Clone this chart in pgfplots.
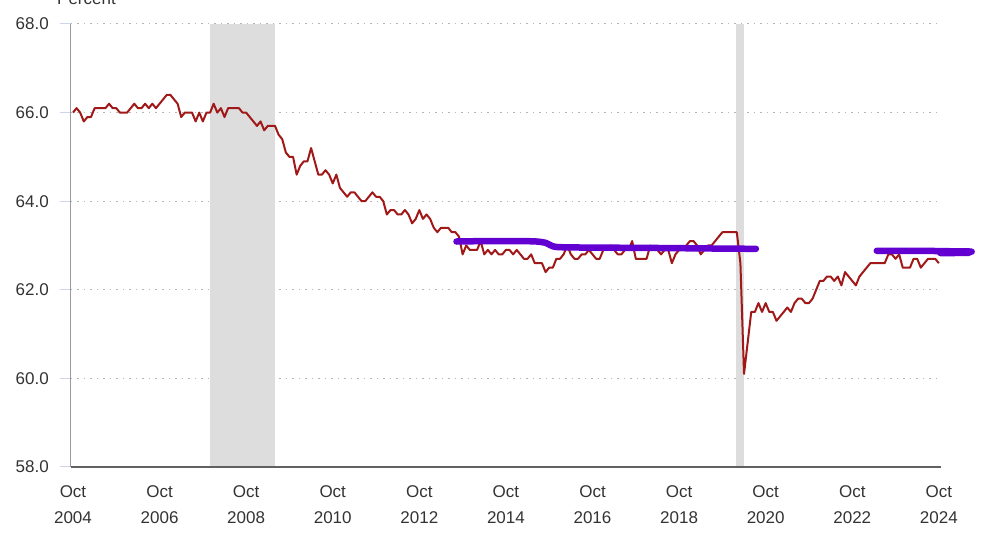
\documentclass[border=0pt]{standalone}
\usepackage{pgfplots}
\pgfplotsset{compat=1.18}
\usepackage{pgfplotstable}
\usepackage{fontspec}
\setmainfont{Liberation Sans}
\definecolor{lfpr}{RGB}{160,24,24}
\definecolor{recg}{RGB}{221,221,221}
\definecolor{annot}{RGB}{98,0,210}
\definecolor{tickc}{RGB}{204,214,235}
\definecolor{gridc}{RGB}{180,180,180}
\definecolor{labc}{RGB}{51,51,51}

% months since Oct 2004, labor force participation rate (percent)
\pgfplotstableread{
m v
0 66.0
1 66.1
2 66.0
3 65.8
4 65.9
5 65.9
6 66.1
7 66.1
8 66.1
9 66.1
10 66.2
11 66.1
12 66.1
13 66.0
14 66.0
15 66.0
16 66.1
17 66.2
18 66.1
19 66.1
20 66.2
21 66.1
22 66.2
23 66.1
24 66.2
25 66.3
26 66.4
27 66.4
28 66.3
29 66.2
30 65.9
31 66.0
32 66.0
33 66.0
34 65.8
35 66.0
36 65.8
37 66.0
38 66.0
39 66.2
40 66.0
41 66.1
42 65.9
43 66.1
44 66.1
45 66.1
46 66.1
47 66.0
48 66.0
49 65.9
50 65.8
51 65.7
52 65.8
53 65.6
54 65.7
55 65.7
56 65.7
57 65.5
58 65.4
59 65.1
60 65.0
61 65.0
62 64.6
63 64.8
64 64.9
65 64.9
66 65.2
67 64.9
68 64.6
69 64.6
70 64.7
71 64.6
72 64.4
73 64.6
74 64.3
75 64.2
76 64.1
77 64.2
78 64.2
79 64.1
80 64.0
81 64.0
82 64.1
83 64.2
84 64.1
85 64.1
86 64.0
87 63.7
88 63.8
89 63.8
90 63.7
91 63.7
92 63.8
93 63.7
94 63.5
95 63.6
96 63.8
97 63.6
98 63.7
99 63.6
100 63.4
101 63.3
102 63.4
103 63.4
104 63.4
105 63.3
106 63.3
107 63.2
108 62.8
109 63.0
110 62.9
111 62.9
112 62.9
113 63.1
114 62.8
115 62.9
116 62.8
117 62.9
118 62.8
119 62.8
120 62.9
121 62.9
122 62.8
123 62.9
124 62.8
125 62.7
126 62.7
127 62.8
128 62.6
129 62.6
130 62.6
131 62.4
132 62.5
133 62.5
134 62.7
135 62.7
136 62.8
137 63.0
138 62.8
139 62.7
140 62.7
141 62.8
142 62.8
143 62.9
144 62.8
145 62.7
146 62.7
147 62.9
148 62.9
149 63.0
150 62.9
151 62.8
152 62.8
153 62.9
154 62.9
155 63.1
156 62.7
157 62.7
158 62.7
159 62.7
160 63.0
161 62.9
162 62.9
163 62.8
164 62.9
165 62.9
166 62.6
167 62.8
168 62.9
169 62.9
170 63.0
171 63.1
172 63.1
173 63.0
174 62.8
175 62.9
176 63.0
177 63.0
178 63.1
179 63.2
180 63.3
181 63.3
182 63.3
183 63.3
184 63.3
185 62.6
186 60.1
187 60.8
188 61.5
189 61.5
190 61.7
191 61.5
192 61.7
193 61.5
194 61.5
195 61.3
196 61.4
197 61.5
198 61.6
199 61.5
200 61.7
201 61.8
202 61.8
203 61.7
204 61.7
205 61.8
206 62.0
207 62.2
208 62.2
209 62.3
210 62.3
211 62.2
212 62.3
213 62.1
214 62.4
215 62.3
216 62.2
217 62.1
218 62.3
219 62.4
220 62.5
221 62.6
222 62.6
223 62.6
224 62.6
225 62.6
226 62.8
227 62.8
228 62.7
229 62.8
230 62.5
231 62.5
232 62.5
233 62.7
234 62.7
235 62.5
236 62.6
237 62.7
238 62.7
239 62.7
240 62.6
}\lfprdata

\begin{document}
\begin{tikzpicture}
\begin{axis}[
  name=ax,
  scale only axis,
  width=870pt, height=443pt,
  xmin=-0.55, xmax=240.6,
  ymin=58, ymax=68,
  clip=false,
  axis x line=bottom, axis y line=left,
  axis line style={-},
  x axis line style={draw=black!62, line width=1.3pt},
  y axis line style={draw=black!40, line width=1pt},
  xtick={0,24,48,72,96,120,144,168,192,216,240},
  xticklabels={{Oct\\2004},{Oct\\2006},{Oct\\2008},{Oct\\2010},{Oct\\2012},{Oct\\2014},{Oct\\2016},{Oct\\2018},{Oct\\2020},{Oct\\2022},{Oct\\2024}},
  ytick={58,60,62,64,66,68},
  major tick length=11pt,
  tick align=outside,
  xtick style={draw=none},
  ytick style={draw=tickc, line width=1pt},
  ymajorgrids,
  grid style={dash pattern=on 1.5pt off 5pt, draw=gridc, line width=1pt},
  xticklabel style={font=\fontsize{17}{26}\selectfont, text=labc, align=center, anchor=north, inner sep=0pt, yshift=-7pt},
  yticklabel style={font=\fontsize{17}{20}\selectfont, text=labc, anchor=east, inner sep=0pt, xshift=-11pt,
    /pgf/number format/.cd, fixed, fixed zerofill, precision=1, assume math mode=true},
]
% recession shading
\addplot[fill=recg, draw=none, forget plot] coordinates {(38,58.02) (56,58.02) (56,68) (38,68)} -- cycle;
\addplot[fill=recg, draw=none, forget plot] coordinates {(183.9,58.02) (186,58.02) (186,68) (183.9,68)} -- cycle;
% series
\addplot[lfpr, line width=2pt, line join=round] table[x=m, y=v] {\lfprdata};
% hand-drawn annotation strokes
\addplot[annot, line width=6.5pt, line cap=round, line join=round, smooth, tension=0.4] coordinates {
 (106.3,63.09) (115,63.10) (124,63.10) (128.5,63.09) (131,63.06) (133.6,62.97) (140,62.955) (160,62.945) (180,62.93) (189.3,62.925)};
\addplot[annot, line width=6.5pt, line cap=round] coordinates {(222.8,62.88) (232,62.88) (240,62.875) (249.1,62.86)};
\addplot[annot, line width=8pt, line cap=round] coordinates {(240.5,62.845) (248.3,62.85)};
\end{axis}
\node[anchor=base west, font=\fontsize{17}{20}\selectfont, text=labc, inner sep=0pt] at ([shift={(-14pt,19pt)}]ax.north west) {Percent};
\pgfresetboundingbox
\path[use as bounding box] ([shift={(-71pt,-86pt)}]ax.south west) rectangle ([shift={(50pt,24pt)}]ax.north east);
\end{tikzpicture}
\end{document}
